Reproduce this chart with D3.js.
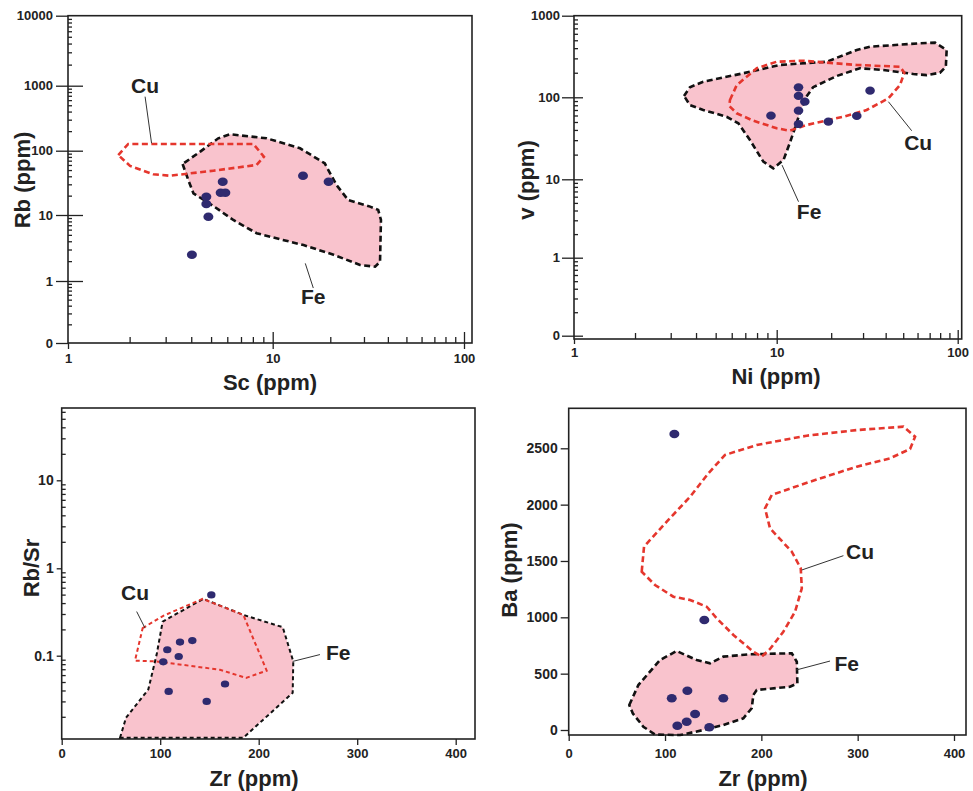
<!DOCTYPE html>
<html>
<head>
<meta charset="utf-8">
<script src="https://cdn.jsdelivr.net/npm/d3@7"></script>
<style>
body{margin:0;background:#fff;}
svg{font-family:"Liberation Sans",Arial,sans-serif;}
</style>
</head>
<body>
<svg width="973" height="791"></svg>
<script>
// ---- Sc vs Rb (top left)
var scRbSamples = [[4.03,2.5],[4.74,19.3],[4.74,14.8],[4.85,9.4],[5.7,33],[5.57,22.2],[5.87,22.2],[14.4,40.8],[19.6,33]];
var scRbFe = [[3.63,62],[3.87,35],[4.1,21.7],[5.13,13.8],[6.42,8.4],[8.34,5.3],[10.9,4.3],[14.5,3.5],[20.8,2.5],[28.6,1.75],[34.3,1.65],[36.4,1.96],[36.8,8.4],[35.6,12],[32.3,13.5],[24.8,17.1],[21.6,29],[18.7,63.7],[13.9,109],[9.35,155],[6.19,179],[5.42,155],[4.41,96]];
var scRbCu = [[1.76,85.7],[1.97,127],[8.04,127],[9.06,80.7],[8.34,60],[5.13,48.9],[3.15,40.8],[2.61,43],[2.01,58]];
var scRbLabels = [{text:"Cu", at:[2.38,1000], lead:[[2.38,678],[2.56,130]]},
                  {text:"Fe", at:[16.3,0.56], lead:[[14.8,1.85],[16.3,0.77]]}];

// ---- Ni vs V (top right)
var niVSamples = [[9.37,59.7],[13.2,132.6],[13.2,104],[14.3,88.4],[13.2,68.7],[13.2,47.2],[19.3,50.4],[27.7,59.2],[32.8,120.5]];
var niVFe = [[3.49,104],[3.73,133],[4.34,155],[6.84,197],[10.4,249],[18.9,273],[27.7,380],[32.8,417],[61.9,459],[75,467],[86.9,380],[86,237],[79.8,200],[67.4,187],[56.9,193],[38.8,216],[28.8,227],[21.4,182],[15.9,133],[14.6,101.7],[13.4,63.8],[12.6,41.9],[11.8,27.5],[10.9,17.2],[9.62,13.6],[8.59,16.4],[7.38,30.1],[6.47,48.2],[5.66,57.9],[4.34,70],[3.73,80.5]];
var niVCu = [[5.88,92.7],[6.35,141],[7.98,227],[10,273],[14,281],[18.9,266],[27.7,249],[48,237],[50.7,200],[48,141],[41.4,97],[31.4,70],[23.3,57.9],[14.6,45.9],[11.8,39.1],[10,41.9],[7.67,51.8],[6.35,63.8],[5.84,78.3]];
var niVLabels = [{text:"Cu", at:[60.5,27.9], lead:[[41.4,88.4],[55.7,39.1]]},
                 {text:"Fe", at:[15.1,3.86], lead:[[10.7,14.9],[13.2,5.18]]}];

// ---- Zr vs Rb/Sr (bottom left)
var zrRbSrSamples = [[151.9,0.496],[107.2,0.117],[120.1,0.143],[132.6,0.149],[118.8,0.098],[103.1,0.085],[108.6,0.039],[165.8,0.0475],[147.2,0.030]];
var zrRbSrFe = [[59.2,0.0115],[65.3,0.0195],[87.9,0.041],[96.4,0.103],[102.5,0.246],[143.8,0.447],[184.4,0.293],[224.4,0.212],[235.1,0.086],[234.5,0.0376],[184.4,0.0115]];
var zrRbSrCu = [[82.2,0.207],[103.1,0.286],[143.1,0.447],[184.4,0.293],[208.1,0.0675],[187.1,0.0557],[160.7,0.069],[96.4,0.086],[74.4,0.0877]];
var zrRbSrLabels = [{text:"Cu", at:[74.4,0.532], lead:[[84.6,0.207],[76.1,0.32]]},
                    {text:"Fe", at:[280.8,0.110], lead:[[234.5,0.086],[262.2,0.103]]}];

// ---- Zr vs Ba (bottom right)
var zrBaSamples = [[109.7,2627],[140.8,976],[123.2,349],[107,281],[160.5,281],[131.2,142],[122.5,74],[112.8,38],[146,24]];
var zrBaFe = [[62.9,222],[72.3,399],[94.8,621],[112.1,701],[132.9,621],[146.7,592],[160.5,651],[188.3,672],[231.6,681],[236.8,606],[237.4,414],[229.8,384],[195.2,355],[191.7,311],[190,193],[181.3,104],[160.5,44],[139.8,0],[115.6,-45],[89.6,-40],[77.5,29],[66.5,148]];
var zrBaCu = [[75.8,1405],[78.2,1627],[101.8,1849],[126,2070],[145,2278],[162.3,2441],[195.2,2529],[247.1,2612],[299.1,2662],[347.5,2692],[359.6,2603],[354.4,2494],[333.6,2411],[299.1,2337],[250.6,2204],[210.8,2086],[203.8,1967],[209,1790],[231.6,1582],[240.9,1435],[242,1258],[235,1050],[222.8,872],[209,719],[200.4,651],[191.7,695],[171,843],[153.7,991],[143.3,1094],[126,1154],[108.6,1183],[89.6,1287]];
var zrBaLabels = [{text:"Cu", at:[302.5,1582], lead:[[242,1420],[285.2,1547]]},
                  {text:"Fe", at:[288.7,592], lead:[[236,532],[271.3,612]]}];

// tick values / labels
var rbTicks = [0.1,1,10,100,1000,10000];
var rbTickText = ["0","1","10","100","1000","10000"];
var vTicks = [0.1,1,10,100,1000];
var vTickText = ["0","1","10","100","1000"];
var ppmLogTicks = [1,10,100];
var ppmLogText = ["1","10","100"];
var rbSrTicks = [0.1,1,10];
var rbSrText = ["0.1","1","10"];
var zrTicks = [0,100,200,300,400];
var baTicks = [0,500,1000,1500,2000,2500];

var pink = "#f9c3cd";
var red = "#e5362d";
var dotColor = "#2f2a6f";
var ink = "#222";

var svg = d3.select("svg");

// minor ticks 2..9 of each decade inside [lo,hi]
var logMinors = function(lo, hi) {
    var out = [];
    for (var e = -3; e <= 4; e++) {
        for (var m = 2; m <= 9; m++) {
            var v = m * Math.pow(10, e);
            if (v > lo * 1.0001 && v < hi * 0.9999) out.push(v);
        }
    }
    return out;
}

var styleAxis = function(g, size) {
    g.select(".domain").remove();
    g.selectAll("line").attr("stroke", ink).attr("stroke-width", 1.3);
    g.selectAll("text").attr("fill", ink)
        .style("font-family", "'Liberation Sans', Arial, sans-serif")
        .style("font-weight", "bold").style("font-size", size + "px");
}

var drawPanel = function(p) {
    var g = svg.append("g");
    var x = p.x, y = p.y;
    var line = d3.line().x(function(d){return x(d[0])}).y(function(d){return y(d[1])});

    // Fe field fill
    g.append("path").attr("d", line(p.fe) + "Z").attr("fill", pink).attr("stroke", "none");

    // frame
    var left = x(p.xDomain[0]);
    g.append("rect")
        .attr("x", left).attr("y", p.top)
        .attr("width", p.right - left).attr("height", p.bottom - p.top)
        .attr("fill", "none").attr("stroke", ink).attr("stroke-width", 1.6);

    // y axis
    var ya = g.append("g").attr("transform", "translate(" + left + ",0)");
    ya.append("g").call(d3.axisLeft(y).tickValues(p.yTicks).tickSize(p.yOut).tickPadding(p.yPad)
        .tickFormat(function(d, i){return p.yText[i]}))
        .call(styleAxis, p.yFont);
    if (p.yIn) {
        ya.append("g").call(d3.axisLeft(y).tickValues(p.yInTicks).tickSize(-p.yIn).tickFormat(""))
            .call(styleAxis, p.yFont);
    }
    if (p.yMinor) {
        ya.append("g").call(d3.axisLeft(y).tickValues(p.yMinor).tickSize(-4).tickFormat(""))
            .call(styleAxis, p.yFont);
    }

    // x axis
    var xa = g.append("g").attr("transform", "translate(0," + p.bottom + ")");
    xa.append("g").call(d3.axisBottom(x).tickValues(p.xTicks).tickSize(p.xOut).tickPadding(p.xPad)
        .tickFormat(function(d, i){return p.xText[i]}))
        .call(styleAxis, p.xFont);
    if (p.xIn) {
        xa.append("g").call(d3.axisBottom(x).tickValues(p.xInTicks).tickSize(-p.xIn).tickFormat(""))
            .call(styleAxis, p.xFont);
    }
    if (p.xMinor) {
        xa.append("g").call(d3.axisBottom(x).tickValues(p.xMinor).tickSize(-6).tickFormat(""))
            .call(styleAxis, p.xFont);
    }

    // outlines
    g.append("path").attr("d", line(p.fe) + "Z").attr("fill", "none")
        .attr("stroke", "#111").attr("stroke-width", p.lw).attr("stroke-dasharray", p.dash);
    g.append("path").attr("d", line(p.cu) + "Z").attr("fill", "none")
        .attr("stroke", red).attr("stroke-width", p.lw).attr("stroke-dasharray", p.dash);

    // samples
    g.selectAll(".dot").data(p.samples).enter().append("ellipse")
        .attr("cx", function(d){return x(d[0])})
        .attr("cy", function(d){return y(d[1])})
        .attr("rx", p.r).attr("ry", p.r * 0.85)
        .attr("fill", dotColor);

    // field labels with leader lines
    p.labels.forEach(function(l) {
        g.append("path").attr("d", line(l.lead)).attr("fill", "none")
            .attr("stroke", "#333").attr("stroke-width", 1);
        g.append("text").attr("x", x(l.at[0])).attr("y", y(l.at[1]))
            .attr("text-anchor", "middle").attr("dy", "0.36em")
            .style("font-weight", "bold").style("font-size", "21px").attr("fill", ink)
            .text(l.text);
    });

    // axis titles
    g.append("text").attr("x", p.xTitle[0]).attr("y", p.xTitle[1])
        .attr("text-anchor", "middle").style("font-weight", "bold").style("font-size", "22px")
        .attr("fill", ink).text(p.xLabel);
    g.append("text").attr("transform", "translate(" + p.yTitle[0] + "," + p.yTitle[1] + ") rotate(-90)")
        .attr("text-anchor", "middle").attr("dy", "0.36em")
        .style("font-weight", "bold").style("font-size", "22px")
        .attr("fill", ink).text(p.yLabel);
}

// top left
drawPanel({
    x: d3.scaleLog().domain([1,10,100]).range([68,272.7,464]),
    y: d3.scaleLog().domain(rbTicks).range([343,281,215,150.7,85.7,15.7]),
    xDomain: [1,100], top: 15.7, bottom: 343, right: 472,
    fe: scRbFe, cu: scRbCu, samples: scRbSamples, labels: scRbLabels,
    yTicks: rbTicks, yText: rbTickText, yOut: 12, yPad: 3, yFont: 13,
    yIn: 15, yInTicks: [1,10,100,1000], yMinor: logMinors(0.1, 10000),
    xTicks: ppmLogTicks, xText: ppmLogText, xOut: 6, xPad: 5, xFont: 13,
    xIn: 11, xInTicks: [10,100], xMinor: logMinors(1, 100),
    lw: 2.6, dash: "6,3.5", r: 5,
    xLabel: "Sc (ppm)", xTitle: [270, 390], yLabel: "Rb (ppm)", yTitle: [22, 180]
});

// top right
drawPanel({
    x: d3.scaleLog().domain([1,10,100]).range([574,776.7,957.7]),
    y: d3.scaleLog().domain(vTicks).range([335.7,257.7,179.3,97.3,15.7]),
    xDomain: [1,100], top: 15.7, bottom: 339, right: 961.7,
    fe: niVFe, cu: niVCu, samples: niVSamples, labels: niVLabels,
    yTicks: vTicks, yText: vTickText, yOut: 12, yPad: 2, yFont: 13,
    yIn: 9, yInTicks: [0.1,1,10,100], yMinor: logMinors(0.1, 1000),
    xTicks: ppmLogTicks, xText: ppmLogText, xOut: 5, xPad: 4, xFont: 13,
    xIn: 9, xInTicks: [10,100], xMinor: logMinors(1, 100),
    lw: 2.6, dash: "6,3.5", r: 4.8,
    xLabel: "Ni (ppm)", xTitle: [776, 384], yLabel: "v (ppm)", yTitle: [526, 180]
});

// bottom left
drawPanel({
    x: d3.scaleLinear().domain([0,400]).range([61.7,455.7]),
    y: d3.scaleLog().domain(rbSrTicks).range([655.7,568.3,480.3]),
    xDomain: [0,420], top: 408, bottom: 739, right: 475,
    fe: zrRbSrFe, cu: zrRbSrCu, samples: zrRbSrSamples, labels: zrRbSrLabels,
    yTicks: rbSrTicks, yText: rbSrText, yOut: 5, yPad: 3, yFont: 14,
    yIn: 0, yMinor: logMinors(0.0112, 66),
    xTicks: zrTicks, xText: zrTicks.map(String), xOut: 6, xPad: 4, xFont: 13,
    xIn: 0,
    lw: 2, dash: "4,3", r: 4.2,
    xLabel: "Zr (ppm)", xTitle: [254, 786], yLabel: "Rb/Sr", yTitle: [31, 568]
});

// bottom right
drawPanel({
    x: d3.scaleLinear().domain([0,400]).range([568.7,954]),
    y: d3.scaleLinear().domain([0,2500]).range([730,448.3]),
    xDomain: [0,412], top: 408.3, bottom: 735, right: 966,
    fe: zrBaFe, cu: zrBaCu, samples: zrBaSamples, labels: zrBaLabels,
    yTicks: baTicks, yText: baTicks.map(String), yOut: 8, yPad: 3, yFont: 14,
    yIn: 0,
    xTicks: zrTicks, xText: zrTicks.map(String), xOut: 6, xPad: 8, xFont: 13,
    xIn: 0,
    lw: 2.6, dash: "6,3.5", r: 5,
    xLabel: "Zr (ppm)", xTitle: [763, 786], yLabel: "Ba (ppm)", yTitle: [509, 570]
});
</script>
</body>
</html>
